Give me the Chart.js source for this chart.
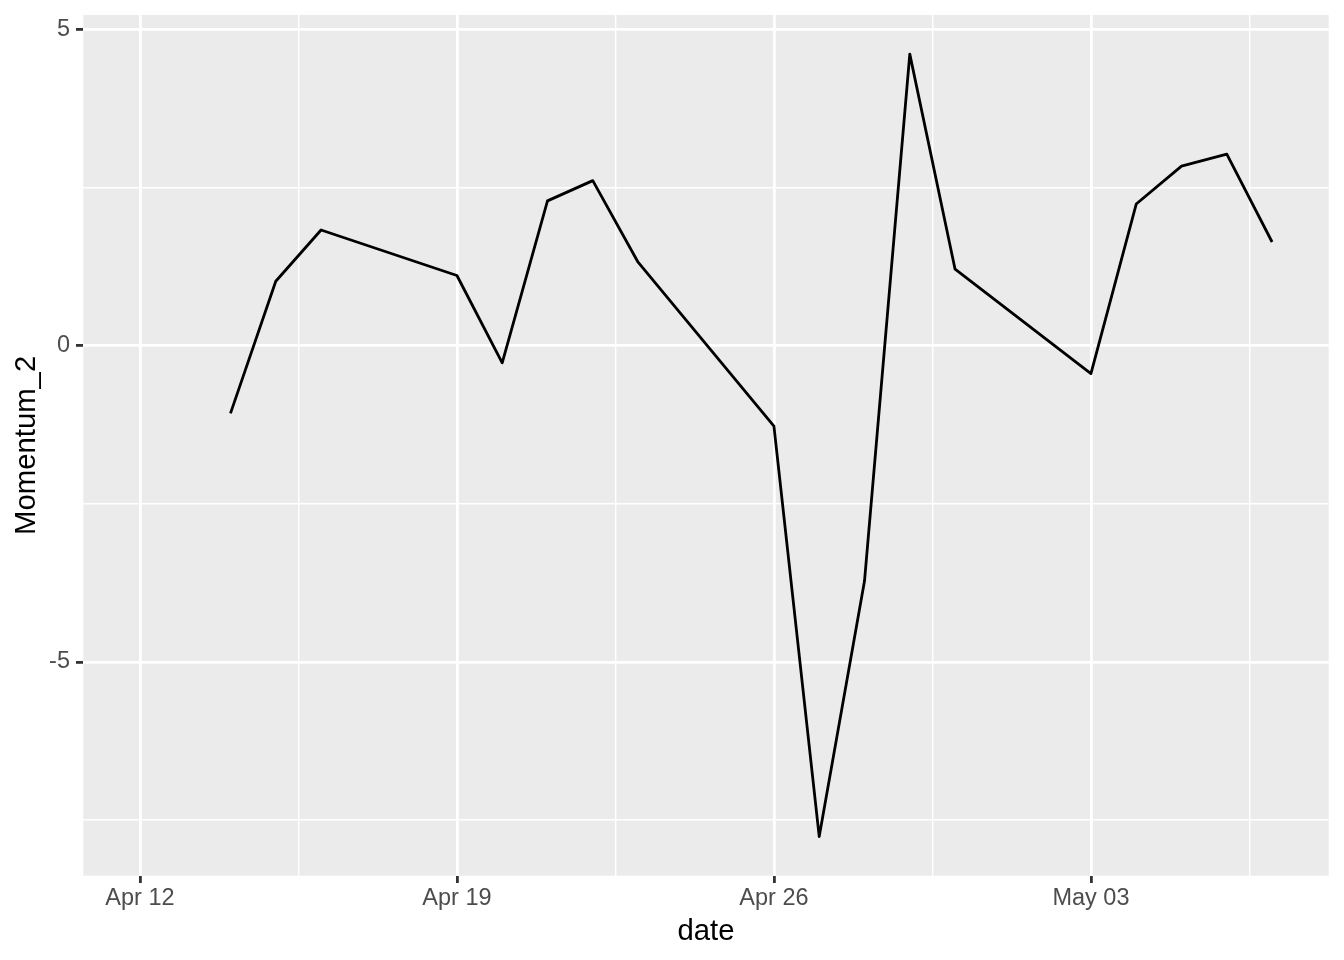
<!DOCTYPE html>
<html>
<head>
<meta charset="utf-8">
<script src="https://cdn.jsdelivr.net/npm/chart.js@4/dist/chart.umd.min.js"></script>
<style>
  html, body { margin: 0; padding: 0; background: #ffffff; }
  #wrap { width: 1344px; height: 960px; position: relative; }
</style>
</head>
<body>
<div id="wrap"><canvas id="momentumChart"></canvas></div>
<script>
// Trading days and Momentum_2 values (first two are NA)
const dates = [
  "2021-04-12", "2021-04-13", "2021-04-14", "2021-04-15", "2021-04-16",
  "2021-04-19", "2021-04-20", "2021-04-21", "2021-04-22", "2021-04-23",
  "2021-04-26", "2021-04-27", "2021-04-28", "2021-04-29", "2021-04-30",
  "2021-05-03", "2021-05-04", "2021-05-05", "2021-05-06", "2021-05-07",
];
const momentum2 = [
  null, null, -1.07, 1.02, 1.83,
  1.11, -0.27, 2.29, 2.61, 1.32,
  -1.27, -7.76, -3.72, 4.61, 1.21,
  -0.44, 2.24, 2.84, 3.03, 1.64,
];

// Axis breaks
const xTickDates = ["2021-04-12", "2021-04-19", "2021-04-26", "2021-05-03"];
const xTickLabels = ["Apr 12", "Apr 19", "Apr 26", "May 03"];
const yTicks = [-7.5, -5, -2.5, 0, 2.5, 5];
const yMajor = [-5, 0, 5];

const DAY = 86400000;
const origin = Date.parse(dates[0]);
const toDay = (d) => (Date.parse(d) - origin) / DAY;

const points = dates.map((d, i) => ({ x: toDay(d), y: momentum2[i] }));
const majorX = xTickDates.map(toDay);
// minor breaks halfway between the major ones (plus one past the last)
const minorX = majorX.map((v) => v + 3.5);
const xTicks = [...majorX, ...minorX].sort((a, b) => a - b);

// ggplot-style 5% expansion
const xs = dates.map(toDay);
const xSpan = Math.max(...xs) - Math.min(...xs);
const ys = momentum2.filter((v) => v !== null);
const ySpan = Math.max(...ys) - Math.min(...ys);

const FONT = "'Liberation Sans', Arial, Helvetica, sans-serif";

const panelBackground = {
  id: "panelBackground",
  beforeDraw(chart) {
    const { ctx, chartArea } = chart;
    ctx.save();
    ctx.fillStyle = "#EBEBEB";
    ctx.fillRect(chartArea.left, chartArea.top, chartArea.right - chartArea.left, chartArea.bottom - chartArea.top);
    ctx.restore();
  },
};

const isMajorX = (v) => majorX.includes(v);
const isMajorY = (v) => yMajor.includes(v);

new Chart(document.getElementById("momentumChart"), {
  type: "line",
  data: {
    datasets: [
      {
        label: "Momentum_2",
        data: points,
        borderColor: "#000000",
        borderWidth: 2.8,
        borderJoinStyle: "round",
        pointRadius: 0,
        tension: 0,
        fill: false,
      },
    ],
  },
  options: {
    responsive: true,
    maintainAspectRatio: false,
    animation: false,
    devicePixelRatio: 1,
    layout: { padding: { top: 15, right: 15.3, left: 0, bottom: 0 } },
    plugins: {
      legend: { display: false },
      tooltip: { enabled: false },
    },
    scales: {
      x: {
        type: "linear",
        min: Math.min(...xs) - 0.05 * xSpan,
        max: Math.max(...xs) + 0.05 * xSpan,
        afterBuildTicks: (scale) => {
          scale.ticks = xTicks.map((v) => ({ value: v }));
        },
        afterFit: (scale) => {
          scale.height = 84.3;
          scale.paddingLeft = 0;
          scale.paddingRight = 0;
        },
        border: { display: false },
        grid: {
          color: "#FFFFFF",
          lineWidth: (c) => (c.tick && isMajorX(c.tick.value) ? 2.8 : 1.4),
          drawTicks: true,
          tickLength: 7.3,
          tickColor: (c) => (c.tick && isMajorX(c.tick.value) ? "#333333" : "rgba(0,0,0,0)"),
          tickWidth: 2.8,
        },
        ticks: {
          autoSkip: false,
          maxRotation: 0,
          padding: 1,
          color: "#4D4D4D",
          font: { family: FONT, size: 23.5 },
          callback: (v) => {
            const i = majorX.indexOf(v);
            return i >= 0 ? xTickLabels[i] : "";
          },
        },
        title: {
          display: true,
          text: "date",
          color: "#000000",
          font: { family: FONT, size: 29.3 },
          padding: { top: 0, bottom: 11 },
        },
      },
      y: {
        type: "linear",
        min: Math.min(...ys) - 0.05 * ySpan,
        max: Math.max(...ys) + 0.05 * ySpan,
        afterBuildTicks: (scale) => {
          scale.ticks = yTicks.map((v) => ({ value: v }));
        },
        afterFit: (scale) => {
          scale.width = 83.3;
          scale.paddingTop = 0;
          scale.paddingBottom = 0;
        },
        border: { display: false },
        grid: {
          color: "#FFFFFF",
          lineWidth: (c) => (c.tick && isMajorY(c.tick.value) ? 2.8 : 1.4),
          drawTicks: true,
          tickLength: 7.3,
          tickColor: (c) => (c.tick && isMajorY(c.tick.value) ? "#333333" : "rgba(0,0,0,0)"),
          tickWidth: 2.8,
        },
        ticks: {
          autoSkip: false,
          padding: 6,
          color: "#4D4D4D",
          font: { family: FONT, size: 23.5 },
          callback: (v) => (isMajorY(v) ? String(v) : ""),
        },
        title: {
          display: true,
          text: "Momentum_2",
          color: "#000000",
          font: { family: FONT, size: 29.3 },
          padding: { top: 9, bottom: 0 },
        },
      },
    },
  },
  plugins: [panelBackground],
});
</script>
</body>
</html>
